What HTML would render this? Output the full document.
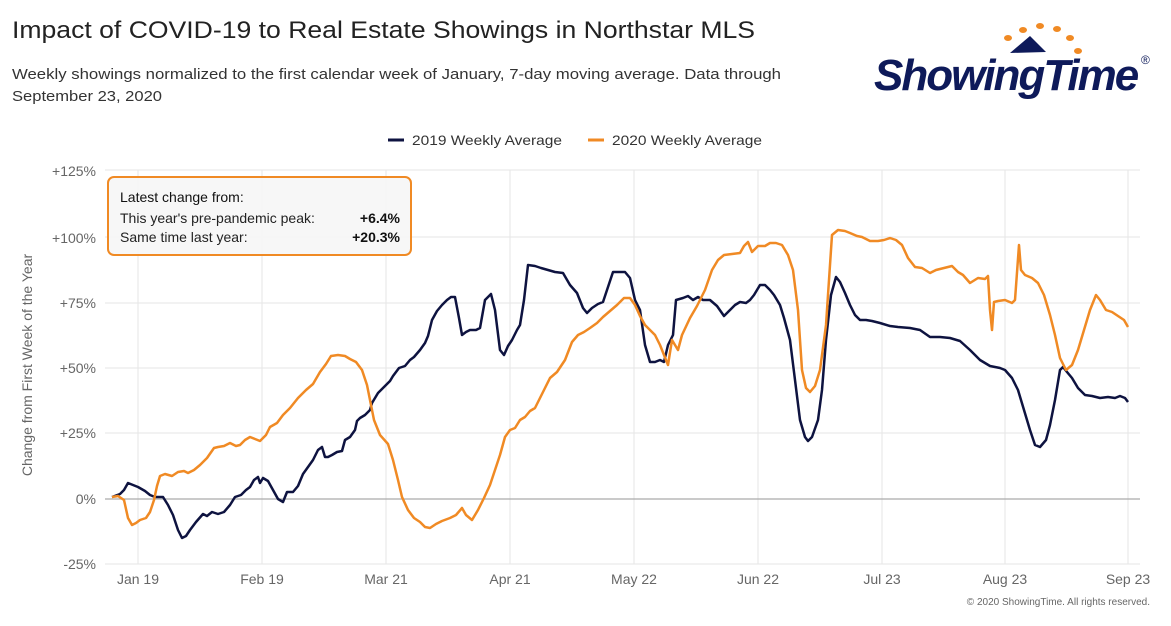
<!DOCTYPE html>
<html><head><meta charset="utf-8"><style>
body{margin:0;background:#fff;width:1171px;height:621px;overflow:hidden;font-family:"Liberation Sans",sans-serif}
</style></head><body>
<svg width="1171" height="621" xmlns="http://www.w3.org/2000/svg" font-family="Liberation Sans, sans-serif">
<text x="12" y="38" font-size="24" fill="#222" textLength="743" lengthAdjust="spacingAndGlyphs">Impact of COVID-19 to Real Estate Showings in Northstar MLS</text>
<text x="12" y="79" font-size="15" fill="#333" textLength="769" lengthAdjust="spacingAndGlyphs">Weekly showings normalized to the first calendar week of January, 7-day moving average. Data through</text>
<text x="12" y="101" font-size="15" fill="#333" textLength="150" lengthAdjust="spacingAndGlyphs">September 23, 2020</text>
<!-- logo -->
<g fill="#f08a24">
<ellipse cx="1008" cy="38" rx="4" ry="3"/><ellipse cx="1023" cy="30" rx="4" ry="3"/><ellipse cx="1040" cy="26" rx="4" ry="3"/><ellipse cx="1057" cy="29" rx="4" ry="3"/><ellipse cx="1070" cy="38" rx="4" ry="3"/><ellipse cx="1078" cy="51" rx="4" ry="3"/>
</g>
<path d="M1030 36 L1046 52 L1010 53 Z" fill="#0e1a5a"/>
<text x="874" y="90" font-size="44" font-weight="bold" font-style="italic" fill="#0e1a5a" letter-spacing="-2">ShowingTime</text>
<text x="1141" y="64" font-size="12" fill="#0e1a5a">®</text>
<!-- legend -->
<line x1="388" y1="140" x2="404" y2="140" stroke="#0e1340" stroke-width="3"/>
<text x="412" y="145" font-size="14" fill="#333" textLength="150" lengthAdjust="spacingAndGlyphs">2019 Weekly Average</text>
<line x1="588" y1="140" x2="604" y2="140" stroke="#f08a24" stroke-width="3"/>
<text x="612" y="145" font-size="14" fill="#333" textLength="150" lengthAdjust="spacingAndGlyphs">2020 Weekly Average</text>
<!-- grid -->
<g stroke="#e6e6e6" stroke-width="1">
<line x1="105" y1="170" x2="1140" y2="170"/><line x1="105" y1="237" x2="1140" y2="237"/><line x1="105" y1="303" x2="1140" y2="303"/><line x1="105" y1="368" x2="1140" y2="368"/><line x1="105" y1="433" x2="1140" y2="433"/><line x1="105" y1="564" x2="1140" y2="564"/>
<line x1="138" y1="170" x2="138" y2="564"/><line x1="262" y1="170" x2="262" y2="564"/><line x1="386" y1="170" x2="386" y2="564"/><line x1="510" y1="170" x2="510" y2="564"/><line x1="634" y1="170" x2="634" y2="564"/><line x1="758" y1="170" x2="758" y2="564"/><line x1="882" y1="170" x2="882" y2="564"/><line x1="1005" y1="170" x2="1005" y2="564"/><line x1="1128" y1="170" x2="1128" y2="564"/>
</g>
<line x1="105" y1="499" x2="1140" y2="499" stroke="#aaa" stroke-width="1.2"/>
<g font-size="14" fill="#666" text-anchor="end">
<text x="96" y="176">+125%</text><text x="96" y="243">+100%</text><text x="96" y="308">+75%</text><text x="96" y="373">+50%</text><text x="96" y="438">+25%</text><text x="96" y="504">0%</text><text x="96" y="569">-25%</text>
</g>
<g font-size="14" fill="#666" text-anchor="middle">
<text x="138" y="584">Jan 19</text><text x="262" y="584">Feb 19</text><text x="386" y="584">Mar 21</text><text x="510" y="584">Apr 21</text><text x="634" y="584">May 22</text><text x="758" y="584">Jun 22</text><text x="882" y="584">Jul 23</text><text x="1005" y="584">Aug 23</text><text x="1128" y="584">Sep 23</text>
</g>
<text transform="translate(32,365) rotate(-90)" font-size="14" fill="#666" text-anchor="middle">Change from First Week of the Year</text>
<text x="1150" y="605" font-size="10" fill="#666" text-anchor="end">© 2020 ShowingTime. All rights reserved.</text>
<polyline fill="none" stroke="#0e1340" stroke-width="2.5" stroke-linejoin="round" points="112,497 120,494 124,490 128,483 133,485 138,487 145,491 150,495 155,497 163,497 168,505 173,515 178,530 182,538 186,536 190,530 196,522 203,514 207,516 212,512 218,514 224,512 230,505 235,497 241,495 246,490 250,487 254,480 258,477 260,483 263,478 268,481 273,490 278,499 283,502 287,492 293,492 298,486 303,474 308,467 313,460 318,450 322,447 325,457 328,457 332,455 337,452 342,451 345,440 350,437 355,430 357,421 360,418 365,415 370,410 372,403 378,393 384,387 390,381 393,376 399,368 405,366 410,360 414,357 420,350 425,343 428,336 432,320 437,311 442,305 447,300 451,297 455,297 459,318 462,335 466,332 470,330 476,330 480,328 485,300 491,294 495,310 500,350 504,355 508,346 512,340 517,330 520,325 524,300 528,265 535,266 541,268 548,270 555,272 563,273 570,285 577,293 583,308 587,313 592,308 598,304 603,302 608,287 613,272 618,272 625,272 630,278 635,300 640,310 645,345 650,362 655,362 660,360 664,362 668,345 673,335 676,300 683,298 688,296 693,300 698,297 703,300 710,300 717,306 724,316 730,310 735,305 740,302 746,303 750,300 754,295 760,285 765,285 770,290 774,295 780,305 784,318 790,340 795,380 800,420 805,437 808,441 812,437 818,420 822,390 826,340 831,295 836,277 840,282 845,293 850,305 855,315 860,320 866,320 872,321 880,323 890,326 898,327 910,328 920,330 930,337 940,337 950,338 960,341 970,350 980,360 990,366 1000,368 1005,370 1012,378 1018,390 1024,410 1030,430 1035,445 1040,447 1046,440 1050,425 1055,400 1060,370 1063,367 1067,372 1072,378 1078,388 1085,395 1092,396 1100,398 1108,397 1115,398 1120,396 1125,398 1128,402"/>
<polyline fill="none" stroke="#f08a24" stroke-width="2.5" stroke-linejoin="round" points="112,497 118,496 124,500 128,518 132,525 136,523 140,520 146,518 150,512 154,500 157,486 160,476 165,474 172,476 178,472 184,471 188,473 194,470 200,465 207,458 214,448 218,447 224,446 230,443 236,446 240,445 245,440 250,437 255,439 260,441 266,435 270,427 277,423 283,415 290,408 298,398 306,390 313,384 320,372 326,364 331,356 338,355 345,356 350,359 356,362 362,370 367,385 370,400 374,420 380,435 388,444 393,460 398,480 402,497 408,510 414,518 420,522 425,527 430,528 436,524 442,521 450,518 456,515 462,508 466,515 472,520 478,510 484,498 490,485 495,470 500,455 505,437 510,430 515,428 520,420 525,417 530,411 535,408 540,398 545,388 550,378 557,372 565,360 572,342 578,335 584,332 590,328 597,323 603,317 610,311 617,305 624,298 630,298 635,305 640,316 645,325 650,330 655,335 660,345 664,355 668,365 672,340 678,350 682,335 690,318 697,306 705,290 712,270 718,260 724,255 732,254 740,253 744,246 748,242 752,252 758,246 765,246 770,243 776,243 782,245 788,255 793,270 798,310 802,370 806,388 810,392 815,386 820,370 826,325 832,235 838,230 845,231 850,233 857,236 862,237 870,241 878,241 884,240 890,238 896,240 902,245 908,258 915,267 922,268 930,273 936,270 944,268 952,266 958,272 963,275 970,283 978,278 985,279 988,276 990,310 992,330 994,302 998,301 1005,300 1012,303 1015,300 1019,245 1021,270 1025,275 1032,278 1038,283 1044,295 1050,315 1055,335 1060,358 1066,370 1072,365 1078,350 1084,330 1090,310 1096,295 1100,300 1106,310 1112,312 1118,316 1124,320 1128,327"/>
<!-- annotation box -->
<rect x="108" y="177" width="303" height="78" rx="6" fill="#f7f7f7" fill-opacity="0.95" stroke="#f08a24" stroke-width="2"/>
<text x="120" y="202" font-size="14" fill="#111">Latest change from:</text>
<text x="120" y="223" font-size="14" fill="#222">This year's pre-pandemic peak:</text>
<text x="400" y="223" font-size="14" font-weight="bold" fill="#111" text-anchor="end">+6.4%</text>
<text x="120" y="242" font-size="14" fill="#222">Same time last year:</text>
<text x="400" y="242" font-size="14" font-weight="bold" fill="#111" text-anchor="end">+20.3%</text>
</svg>
</body></html>
